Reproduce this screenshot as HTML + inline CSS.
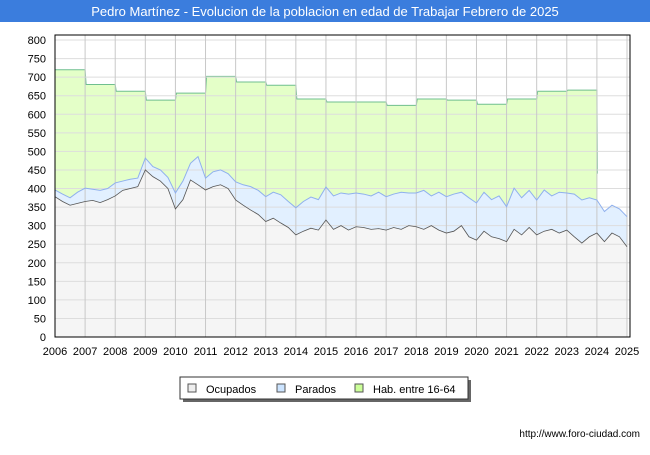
<!DOCTYPE html>
<html><head><meta charset="utf-8"><style>
body{margin:0;width:650px;height:450px;background:#fff;font-family:"Liberation Sans","DejaVu Sans",sans-serif;overflow:hidden}
</style></head><body>
<svg id="c" width="650" height="450" xmlns="http://www.w3.org/2000/svg">
<rect x="0" y="0" width="650" height="22" fill="#3b7ddd"/>
<text x="325" y="16" text-anchor="middle" font-size="13" fill="#fff">Pedro Martínez - Evolucion de la poblacion en edad de Trabajar Febrero de 2025</text>
<g id="grid"></g><g id="marks"></g><g id="axes"></g>
<g>
<rect x="183" y="380" width="288" height="22" fill="#666"/>
<rect x="180" y="377" width="288" height="22" fill="#fff" stroke="#333"/>
<rect x="188" y="384" width="8" height="8" fill="#eee" stroke="#555"/>
<text x="206" y="393" font-size="11" fill="#000">Ocupados</text>
<rect x="277" y="384" width="8" height="8" fill="#cce4ff" stroke="#555"/>
<text x="295" y="393" font-size="11" fill="#000">Parados</text>
<rect x="355" y="384" width="8" height="8" fill="#ccff99" stroke="#555"/>
<text x="373" y="393" font-size="11" fill="#000">Hab. entre 16-64</text>
</g>
<text x="640" y="437" text-anchor="end" font-size="10" fill="#000">http://www.foro-ciudad.com</text>
</svg>
<script>
const yearLabels=[2006,2007,2008,2009,2010,2011,2012,2013,2014,2015,2016,2017,2018,2019,2020,2021,2022,2023,2024,2025];
const yTicks=[0,50,100,150,200,250,300,350,400,450,500,550,600,650,700,750,800];
const habYears=[2006,2007,2008,2009,2010,2011,2012,2013,2014,2015,2016,2017,2018,2019,2020,2021,2022,2023];
const habValues=[720,680,662,638,657,702,687,678,641,633,633,624,641,638,627,641,662,665];
const habEndValue=440;
const ocupados=[378,365,355,360,365,368,362,370,380,395,400,405,450,432,420,400,345,370,423,410,396,405,410,400,369,355,342,330,311,320,307,295,275,285,293,288,315,290,300,288,297,295,290,292,288,295,290,300,297,290,300,288,280,285,300,270,261,285,270,265,257,290,275,295,275,285,290,280,288,270,253,270,280,257,280,270,243];
const parados=[18,20,20,30,36,30,33,30,35,25,25,23,32,27,30,30,43,50,45,76,32,40,40,40,49,55,63,65,67,70,76,70,73,80,84,82,89,90,88,97,91,90,90,98,90,90,100,88,91,105,80,102,98,100,90,105,100,105,100,115,94,111,100,100,94,111,90,110,100,115,116,105,89,81,75,75,81];
const L=55,R=627,T=35,B=337,NS="http://www.w3.org/2000/svg";
const x=yr=>L+(yr-2006)*(R-L)/19;
const y=v=>B-v*(B-40)/800;
const tq=i=>2006+i/4;
function mk(tag,attrs,parent){const e=document.createElementNS(NS,tag);for(const k in attrs)e.setAttribute(k,attrs[k]);parent.appendChild(e);return e;}
const grid=document.getElementById('grid'),marks=document.getElementById('marks'),axes=document.getElementById('axes');
mk('rect',{x:L,y:T,width:630-L,height:B-T,fill:'#fff'},grid);
// hab area
let hp=`M${x(2006)},${y(0)}`;
habYears.forEach((yr,i)=>{hp+=` L${x(yr)+(i?1:0)},${y(habValues[i])} L${x(yr+1)},${y(habValues[i])}`;});
hp+=` L${x(2024)+0.5},${y(habEndValue)} L${x(2024)+0.5},${y(0)} Z`;
const ha=mk('path',{d:hp,fill:'#e4ffc8'},marks);

let hl=`M${x(2006)},${y(habValues[0])}`;
habYears.forEach((yr,i)=>{hl+=` L${x(yr)+(i?1:0)},${y(habValues[i])} L${x(yr+1)},${y(habValues[i])}`;});
hl+=` L${x(2024)+0.5},${y(habEndValue)}`;
const hln=mk('path',{d:hl,fill:'none',stroke:'#6fbf8f','stroke-width':1},marks);

// activos area
let ap=`M${x(2006)},${y(0)}`,al='';
ocupados.forEach((o,i)=>{const p=`${x(tq(i))},${y(o+parados[i])}`;ap+=' L'+p;al+=(i?' L':'M')+p;});
ap+=` L${x(tq(ocupados.length-1))},${y(0)} Z`;
const pa=mk('path',{d:ap,fill:'#e2f0ff'},marks);

let op=`M${x(2006)},${y(0)}`,ol='';
ocupados.forEach((o,i)=>{const p=`${x(tq(i))},${y(o)}`;op+=' L'+p;ol+=(i?' L':'M')+p;});
op+=` L${x(tq(ocupados.length-1))},${y(0)} Z`;
const oa=mk('path',{d:op,fill:'#f5f5f5'},marks);

// gridlines over areas
yTicks.forEach(v=>{const g=mk('line',{x1:L,x2:630,y1:y(v),y2:y(v),stroke:'#ddd','stroke-width':1},marks);
});
yearLabels.forEach(yr=>{const g=mk('line',{x1:x(yr),x2:x(yr),y1:T,y2:B,stroke:'#c8c8c8','stroke-width':1},marks);
});
const pl=mk('path',{d:al,fill:'none',stroke:'#8fb0ee','stroke-width':1},marks);

const olp=mk('path',{d:ol,fill:'none',stroke:'#555','stroke-width':0.8},marks);

const fr=mk('rect',{x:L,y:T,width:630-L,height:B-T,fill:'none',stroke:'#000'},axes);

yTicks.forEach(v=>{const t=mk('text',{x:46,y:y(v)+4,'text-anchor':'end','font-size':11,fill:'#000'},axes);t.textContent=v;
});
yearLabels.forEach(yr=>{const t=mk('text',{x:x(yr),y:355,'text-anchor':'middle','font-size':11,fill:'#000'},axes);t.textContent=yr;
});
</script>
</body></html>
